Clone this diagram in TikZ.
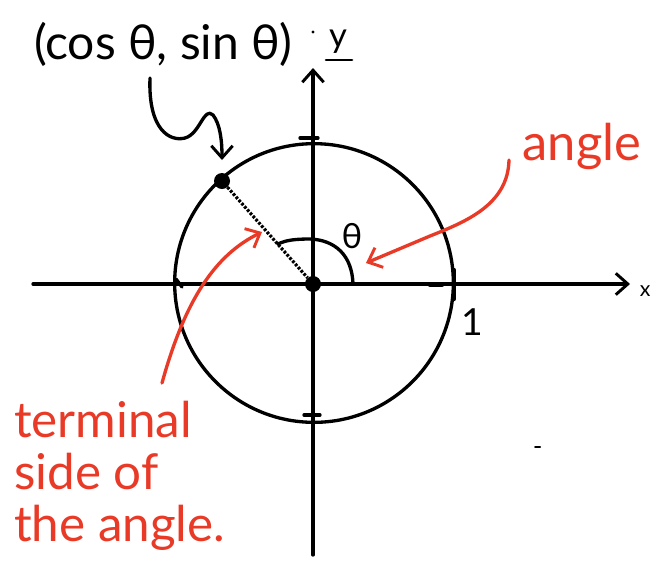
\documentclass[tikz,border=0pt]{standalone}
\usepackage{fontspec}
\setmainfont{Lato}
\usetikzlibrary{arrows.meta}
\definecolor{pen}{RGB}{232,58,38}
\tikzset{
  ink/.style={line width=2.5pt, line cap=round, line join=round},
  redink/.style={ink, draw=pen},
  barb/.style={-{Straight Barb[length=9pt,width=16pt,line width=2.2pt]}},
  dotnode/.style={circle, fill=black, inner sep=0pt, minimum size=12pt},
  hand/.style={font=\fontsize{34}{40}\selectfont},
  redtext/.style={hand, text=pen, align=left},
}
\begin{document}
\begin{tikzpicture}[x=0.75pt,y=-0.75pt]
\useasboundingbox (0,0) rectangle (652,565);
% axes
\coordinate (xs) at (33,284);
\coordinate (xe) at (630,284);
\coordinate (ys) at (313,555);
\coordinate (ye) at (313,68);
\draw[ink,barb] (xs) -- (xe);
\draw[ink,barb] (ys) -- (ye);
% circle
\node[draw, circle, line width=2.5pt, minimum size=209pt, inner sep=0pt] (C) at (314,283) {};
% ticks
\draw[ink] (300,138) -- (318,138);
\draw[ink] (304,415) -- (320,415);
\draw[ink] (176,279) -- (182,287);
\draw[ink, line width=3.2pt] (454,270) -- (454,299);
\draw[ink, line width=3.2pt] (430,285) -- (442,285);
% points
\node[dotnode] (O) at (313,284) {};
\node[dotnode] (P) at (222,181) {};
\draw[line width=2.4pt, dash pattern=on 2pt off 1.2pt] (P) -- (O);
% angle arc
\coordinate (a1) at (353,284);
\coordinate (a2) at (278,244);
\draw[ink] (a1) .. controls (352,255) and (335,240) .. (310,239) .. controls (296,239) and (286,240) .. (a2);
\node[font=\fontsize{26}{30}\selectfont] (th) at (352,236) {θ};
% labels
\node[font=\fontsize{36}{40}\selectfont] (pt) at (163,44) {(cos θ, sin θ)};
\node[font=\fontsize{26}{30}\selectfont] (ylab) at (338,42) {y};
\draw[ink, line width=2pt] (326,60) -- (352,60);
\fill (313,32) circle (1.2pt);
\node[font=\fontsize{28}{30}\selectfont] (one) at (472,322) {1};
\node[font=\fontsize{16}{18}\selectfont, anchor=east, inner sep=1pt] (xlab) at (652,291) {x};
\draw[ink, line width=1.5pt] (535,447) -- (540,447);
% black arrow to P
\coordinate (bs) at (150,78);
\draw[ink,barb] (bs) .. controls (148,130) and (170,142) .. (185,138) .. controls (200,134) and (204,106) .. (213,115) .. controls (220,124) and (222,140) .. (222,160);
% red angle label and arrow
\node[redtext, font=\fontsize{38}{40}\selectfont] (ang) at (582,146) {angle};
\coordinate (rs) at (509,160);
\coordinate (re) at (366,263);
\draw[redink,barb] (rs) .. controls (508,205) and (465,222) .. (430,236) -- (re);
% red terminal side label and arrow
\node[redtext, anchor=north west, inner sep=0pt, font=\fontsize{37}{39}\selectfont] (term) at (14,401) {terminal\\side of\\the angle.};
\coordinate (ts) at (162,383);
\coordinate (te) at (262,232);
\draw[redink,barb] (ts) .. controls (185,300) and (215,255) .. (te);
\end{tikzpicture}
\end{document}
